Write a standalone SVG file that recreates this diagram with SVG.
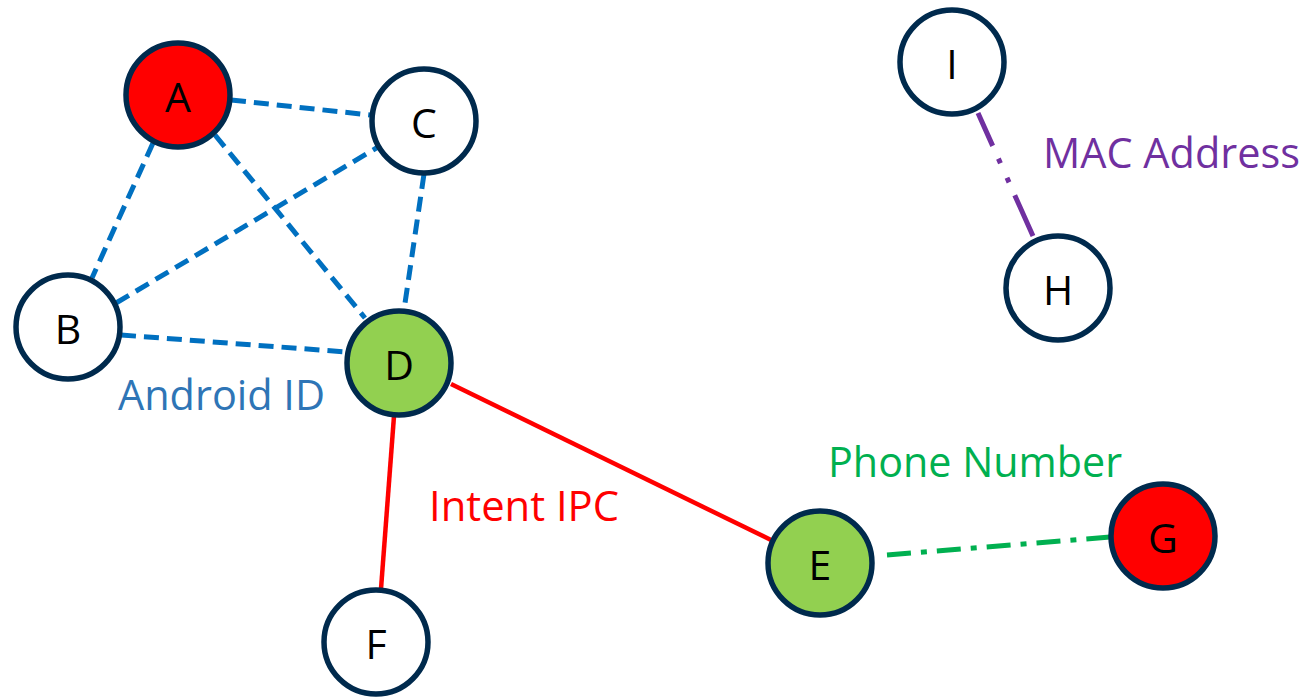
<svg xmlns="http://www.w3.org/2000/svg" width="1309" height="699" viewBox="0 0 1309 699">
  <style>
    .node { stroke: #002a4d; stroke-width: 5.5; }
    .white { fill: #ffffff; }
    .red { fill: #ff0000; }
    .green { fill: #92d050; }
    .nlabel { font-family: "Open Sans", "Liberation Sans", sans-serif; font-size: 41px; fill: #000000; text-anchor: middle; dominant-baseline: central; }
    .elabel { font-family: "Open Sans", "Liberation Sans", sans-serif; font-size: 42px; }
    .android { stroke: #0070c0; stroke-width: 5; stroke-dasharray: 15 8; fill: none; }
    .intent { stroke: #ff0000; stroke-width: 4.5; fill: none; }
    .phone { stroke: #00b050; stroke-width: 5; stroke-dasharray: 24 10 6 10; fill: none; }
    .mac { stroke: #7030a0; stroke-width: 5; stroke-dasharray: 36 14 5 16 5 14 60; fill: none; }
  </style>

  <g id="connectors">
    <line class="android" x1="231" y1="100" x2="370" y2="115"/>
    <line class="android" x1="153" y1="143" x2="92" y2="278"/>
    <line class="android" x1="215" y1="135" x2="365" y2="318"/>
    <line class="android" x1="116" y1="303" x2="378" y2="147"/>
    <line class="android" x1="424" y1="174" x2="404" y2="310"/>
    <line class="android" x1="121" y1="335" x2="346" y2="352"/>
    <line class="intent" x1="394" y1="416" x2="381" y2="589"/>
    <line class="intent" x1="451" y1="384" x2="771" y2="540"/>
    <line class="phone" x1="887" y1="555" x2="1110" y2="537"/>
    <line class="mac" x1="978" y1="113" x2="1033" y2="236"/>
  </g>

  <g id="edge-labels">
    <text class="elabel" x="118" y="410" fill="#2e75b6" textLength="207" lengthAdjust="spacingAndGlyphs">Android ID</text>
    <text class="elabel" x="429" y="521" fill="#ff0000" textLength="190" lengthAdjust="spacingAndGlyphs">Intent IPC</text>
    <text class="elabel" x="828" y="477" fill="#00b050" textLength="294" lengthAdjust="spacingAndGlyphs">Phone Number</text>
    <text class="elabel" x="1043" y="168" fill="#7030a0" textLength="257" lengthAdjust="spacingAndGlyphs">MAC Address</text>
  </g>

  <g id="node-A"><circle class="node red" cx="178" cy="95" r="52"/><text class="nlabel" x="178" y="96">A</text></g>
  <g id="node-B"><circle class="node white" cx="68" cy="327" r="52"/><text class="nlabel" x="68" y="328">B</text></g>
  <g id="node-C"><circle class="node white" cx="424" cy="121" r="52"/><text class="nlabel" x="424" y="122">C</text></g>
  <g id="node-D"><circle class="node green" cx="399" cy="363" r="52"/><text class="nlabel" x="399" y="364">D</text></g>
  <g id="node-E"><circle class="node green" cx="820" cy="563" r="52"/><text class="nlabel" x="820" y="564">E</text></g>
  <g id="node-F"><circle class="node white" cx="376" cy="642" r="52"/><text class="nlabel" x="376" y="643">F</text></g>
  <g id="node-G"><circle class="node red" cx="1163" cy="536" r="52"/><text class="nlabel" x="1163" y="537">G</text></g>
  <g id="node-H"><circle class="node white" cx="1058" cy="288" r="52"/><text class="nlabel" x="1058" y="289">H</text></g>
  <g id="node-I"><circle class="node white" cx="952" cy="62" r="52"/><text class="nlabel" x="952" y="63">I</text></g>
</svg>
